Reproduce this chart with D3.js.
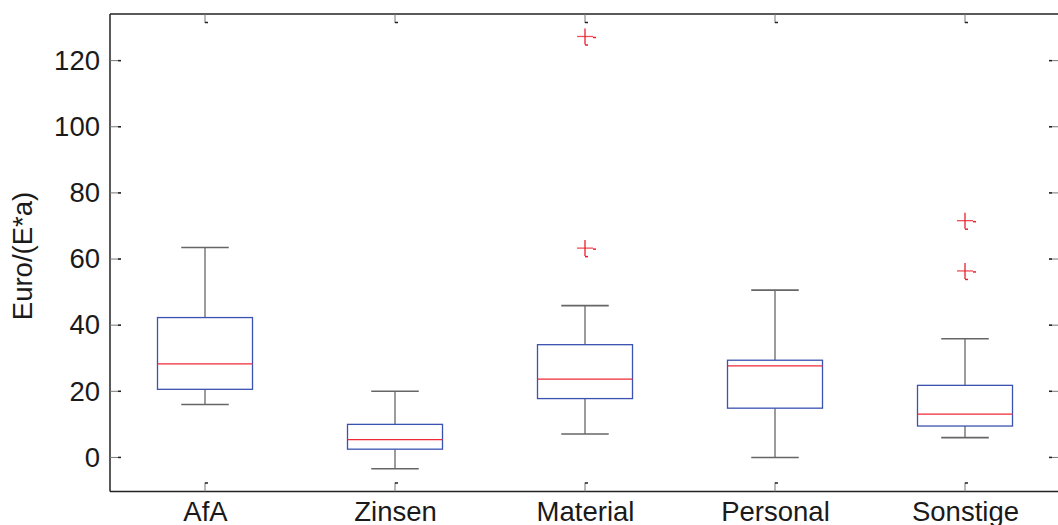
<!DOCTYPE html>
<html><head><meta charset="utf-8">
<script src="https://cdn.jsdelivr.net/npm/d3@7"></script>
<style>body{margin:0;background:#fff;}svg{display:block;}</style>
</head><body>
<svg id="c" width="1058" height="525"></svg>
<script>
const categories = ["AfA","Zinsen","Material","Personal","Sonstige"];
const lowerWhisker = [16.0, -3.4, 7.1, 0.0, 6.0];
const q1 = [20.6, 2.5, 17.8, 14.9, 9.5];
const median = [28.3, 5.4, 23.7, 27.7, 13.1];
const q3 = [42.3, 10.0, 34.1, 29.4, 21.8];
const upperWhisker = [63.5, 20.0, 45.9, 50.6, 35.9];
const outliers = [[], [], [127.3, 63.3], [], [71.6, 56.4]];
const yTicks = [0, 20, 40, 60, 80, 100, 120];

const svg = d3.select("#c");
const L = 110, R = 1060, T = 14, B = 491.5;
const x = d3.scaleLinear().domain([0.5, 5.5]).range([L, R]);
const y = d3.scaleLinear().domain([-10.3, 134.1]).range([B, T]);
const font = "'Liberation Sans', Arial, sans-serif";
const fs = 27.5;
const boxW = 0.25, capW = 0.125;

// axes frame
const g = svg.append("g");
g.append("line").attr("x1", L).attr("x2", R).attr("y1", T).attr("y2", T).attr("stroke", "#222").attr("stroke-width", 1.5);
g.append("line").attr("x1", L).attr("x2", R).attr("y1", B).attr("y2", B).attr("stroke", "#222").attr("stroke-width", 1.5);
g.append("line").attr("x1", L).attr("x2", L).attr("y1", T).attr("y2", B).attr("stroke", "#222").attr("stroke-width", 1.5);
g.append("line").attr("x1", R).attr("x2", R).attr("y1", T).attr("y2", B).attr("stroke", "#222").attr("stroke-width", 1.5);

// y axis
const yAxis = d3.axisLeft(y).tickValues(yTicks).tickSize(0).tickPadding(10);
const ya = svg.append("g").attr("transform", `translate(${L},0)`).call(yAxis);
ya.select(".domain").remove();
ya.selectAll("text").attr("font-family", font).attr("font-size", fs).attr("fill", "#1a1a1a");
yTicks.forEach(v => {
  svg.append("line").attr("x1", L).attr("x2", L + 11).attr("y1", y(v)).attr("y2", y(v)).attr("stroke", "#777").attr("stroke-width", 1);
  svg.append("line").attr("x1", L + 8).attr("x2", L + 11).attr("y1", y(v)).attr("y2", y(v)).attr("stroke", "#222").attr("stroke-width", 1.5);
  svg.append("line").attr("x1", R - 11).attr("x2", R).attr("y1", y(v)).attr("y2", y(v)).attr("stroke", "#777").attr("stroke-width", 1);
  svg.append("line").attr("x1", R - 11).attr("x2", R - 8).attr("y1", y(v)).attr("y2", y(v)).attr("stroke", "#222").attr("stroke-width", 1.5);
});

// x axis
const xAxis = d3.axisBottom(x).tickValues(d3.range(1, categories.length + 1)).tickFormat(i => categories[i - 1]).tickSize(0).tickPadding(10);
const xa = svg.append("g").attr("transform", `translate(0,${B})`).call(xAxis);
xa.select(".domain").remove();
xa.selectAll("text").attr("font-family", font).attr("font-size", fs).attr("fill", "#1a1a1a");
categories.forEach((c, i) => {
  const cx = x(i + 1);
  svg.append("line").attr("x1", cx).attr("x2", cx).attr("y1", B).attr("y2", B - 9).attr("stroke", "#777").attr("stroke-width", 1);
  svg.append("line").attr("x1", cx).attr("x2", cx + 3).attr("y1", B - 8.5).attr("y2", B - 8.5).attr("stroke", "#222").attr("stroke-width", 1.5);
  svg.append("line").attr("x1", cx).attr("x2", cx).attr("y1", T).attr("y2", T + 9).attr("stroke", "#777").attr("stroke-width", 1);
  svg.append("line").attr("x1", cx).attr("x2", cx + 3).attr("y1", T + 8.5).attr("y2", T + 8.5).attr("stroke", "#222").attr("stroke-width", 1.5);
});

// y label
svg.append("text").attr("transform", `translate(32,256) rotate(-90)`).attr("text-anchor", "middle")
  .attr("font-family", font).attr("font-size", fs).attr("fill", "#1a1a1a").text("Euro/(E*a)");

// boxes
const boxes = svg.append("g");
categories.forEach((c, i) => {
  const p = i + 1;
  const wc = "#5a5a5a";
  boxes.append("line").attr("x1", x(p)).attr("x2", x(p)).attr("y1", y(q3[i])).attr("y2", y(upperWhisker[i])).attr("stroke", wc).attr("stroke-width", 1.2);
  boxes.append("line").attr("x1", x(p)).attr("x2", x(p)).attr("y1", y(q1[i])).attr("y2", y(lowerWhisker[i])).attr("stroke", wc).attr("stroke-width", 1.2);
  boxes.append("line").attr("x1", x(p - capW)).attr("x2", x(p + capW)).attr("y1", y(upperWhisker[i])).attr("y2", y(upperWhisker[i])).attr("stroke", "#666").attr("stroke-width", 1.6);
  boxes.append("line").attr("x1", x(p - capW)).attr("x2", x(p + capW)).attr("y1", y(lowerWhisker[i])).attr("y2", y(lowerWhisker[i])).attr("stroke", "#666").attr("stroke-width", 1.6);
  boxes.append("rect").attr("x", x(p - boxW)).attr("width", x(p + boxW) - x(p - boxW))
    .attr("y", y(q3[i])).attr("height", y(q1[i]) - y(q3[i]))
    .attr("fill", "none").attr("stroke", "#3a52b0").attr("stroke-width", 1.3);
  boxes.append("line").attr("x1", x(p - boxW)).attr("x2", x(p + boxW)).attr("y1", y(median[i])).attr("y2", y(median[i])).attr("stroke", "#ee2a36").attr("stroke-width", 1.3);
  outliers[i].forEach(v => {
    const ox = x(p), oy = y(v);
    boxes.append("line").attr("x1", ox - 8).attr("x2", ox + 8).attr("y1", oy).attr("y2", oy).attr("stroke", "#f0505a").attr("stroke-width", 1.3);
    boxes.append("line").attr("x1", ox).attr("x2", ox).attr("y1", oy - 8).attr("y2", oy + 8).attr("stroke", "#e8202c").attr("stroke-width", 1.3);
    boxes.append("line").attr("x1", ox + 8).attr("x2", ox + 11).attr("y1", oy + 1).attr("y2", oy + 1).attr("stroke", "#e8202c").attr("stroke-width", 1.5);
    boxes.append("line").attr("x1", ox).attr("x2", ox + 3).attr("y1", oy + 8.5).attr("y2", oy + 8.5).attr("stroke", "#e8202c").attr("stroke-width", 1.5);
  });
});
</script>
</body></html>
